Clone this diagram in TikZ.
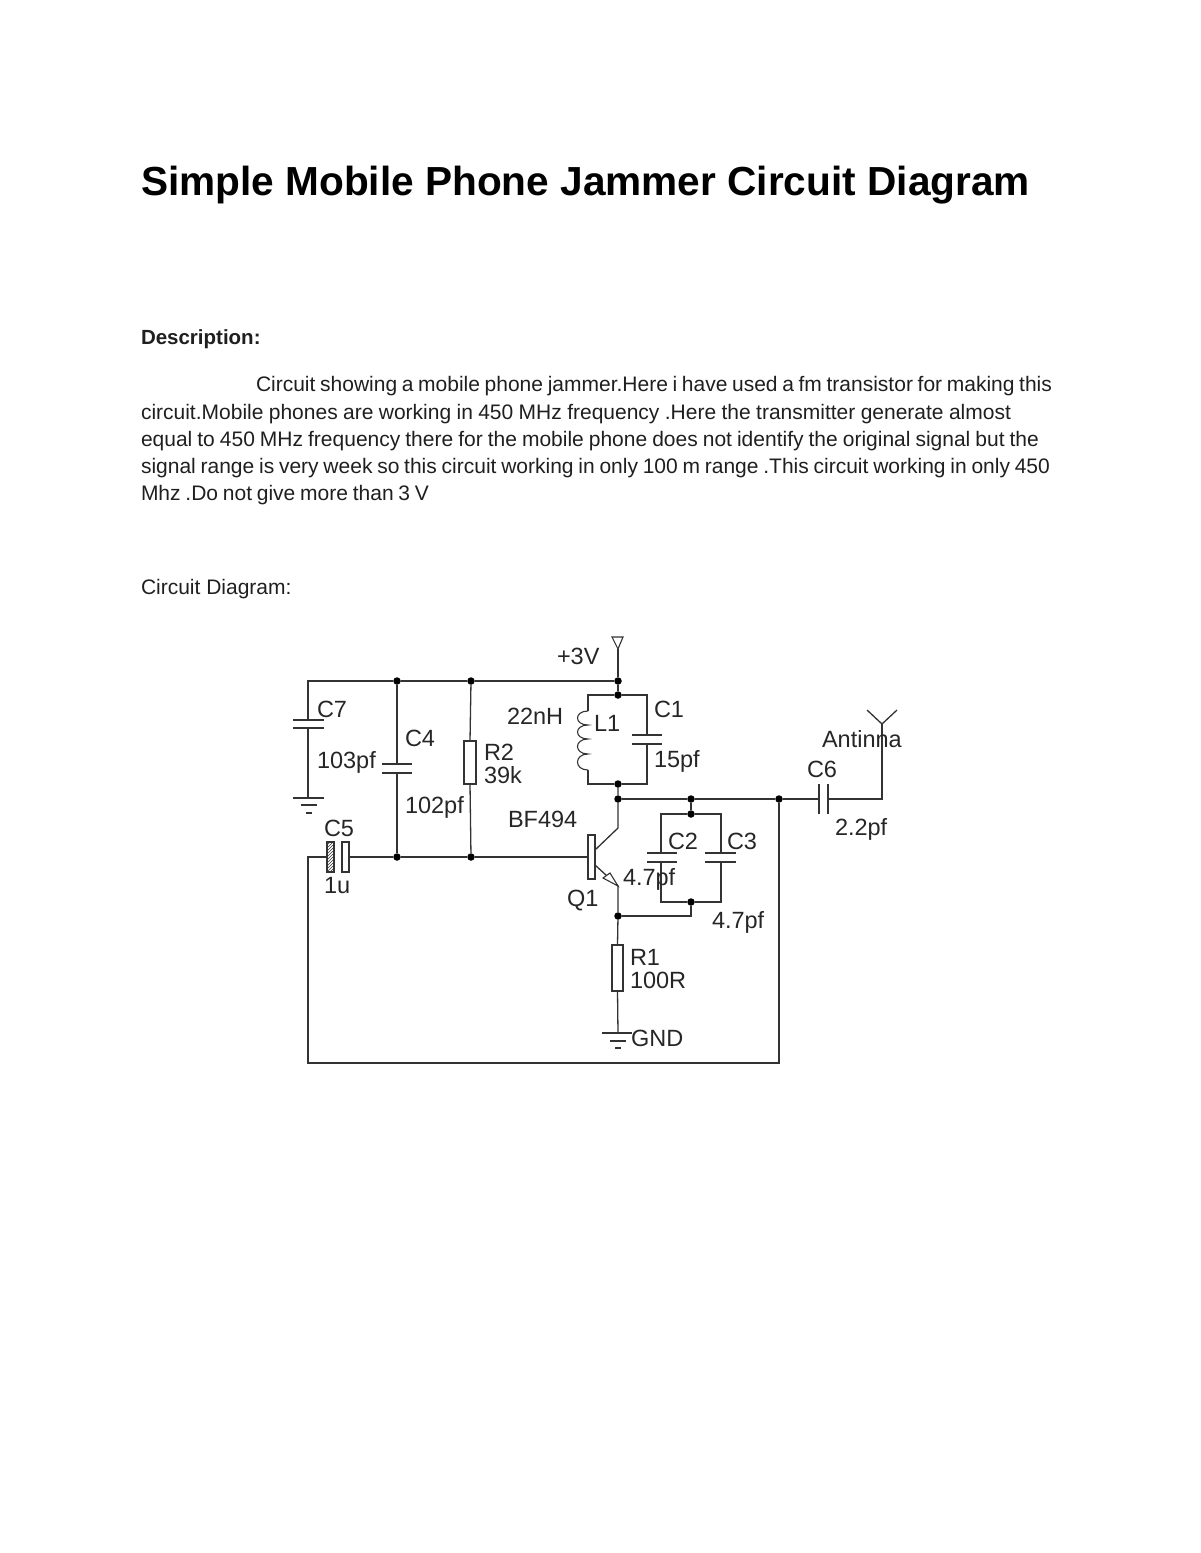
\documentclass[tikz,border=0pt]{standalone}
\usepackage{fontspec}
\setmainfont{Liberation Sans}
\usetikzlibrary{patterns}
\definecolor{wire}{HTML}{333333}
\newcommand{\fitline}[2]{\makebox[#1pt][s]{#2}}
\tikzset{
  x=1pt,y=-1pt,
  wireline/.style={draw=wire,line width=1.3pt,line join=miter},
  thick plate/.style={draw=wire,line width=2pt},
  jdot/.style={circle,fill=black,draw=none,minimum size=7.5pt,inner sep=0pt},
  doc/.style={anchor=base west,inner sep=0pt,outer sep=0pt,font=\fontsize{21}{21}\selectfont,text=black!88},
  lbl/.style={anchor=base west,inner sep=0pt,outer sep=0pt,font=\fontsize{23.5}{23.5}\selectfont,text=black!85},
  part/.style={rectangle,draw=wire,line width=1.3pt,fill=white,inner sep=0pt,outer sep=0pt},
}
\begin{document}
\begin{tikzpicture}
\useasboundingbox (0,0) rectangle (1200,1553);
% Document text
\node[doc,font=\fontsize{40.6}{41}\selectfont\bfseries,text=black] (title) at (141,195) {Simple Mobile Phone Jammer Circuit Diagram};
\node[doc,font=\fontsize{20.5}{21}\selectfont\bfseries] (desc) at (141,344) {Description:};
\node[doc] (l1) at (256,391) {\fitline{796}{Circuit showing a mobile phone jammer.Here i have used a fm transistor for making this}};
\node[doc] (l2) at (141,419) {\fitline{870}{circuit.Mobile phones are working in 450  MHz  frequency .Here the transmitter generate almost}};
\node[doc] (l3) at (141,446) {\fitline{898}{equal to 450 MHz  frequency there for the mobile phone does not identify the original signal but the}};
\node[doc] (l4) at (141,473) {\fitline{909}{signal range is very week so this circuit working in only 100 m range .This circuit working in only 450}};
\node[doc] (l5) at (141,500) {\fitline{288}{Mhz .Do not give more than 3 V}};
\node[doc] (cd) at (141,594) {Circuit Diagram:};

% Junctions
\node[jdot] (j397t) at (397,681) {};
\node[jdot] (j471t) at (471,681) {};
\node[jdot] (j618t) at (618,681) {};
\node[jdot] (jLtop) at (618,695) {};
\node[jdot] (jLbot) at (618,784) {};
\node[jdot] (jC) at (618,799) {};
\node[jdot] (j691t) at (691,799) {};
\node[jdot] (j779) at (779,799) {};
\node[jdot] (jC2t) at (691,814) {};
\node[jdot] (jC2b) at (691,902) {};
\node[jdot] (jE) at (618,916) {};
\node[jdot] (j397b) at (397,857) {};
\node[jdot] (j471b) at (471,857) {};

% Corner and end coordinates
\coordinate (tl) at (308,681);
\coordinate (c7a) at (308,720);
\coordinate (c7b) at (308,728);
\coordinate (c7g) at (308,798);
\coordinate (bl) at (308,1063);
\coordinate (br) at (779,1063);
\coordinate (c5l) at (308,857);
\coordinate (vcc) at (618,649);
\coordinate (ltl) at (588,695);
\coordinate (ltr) at (647,695);
\coordinate (lbl) at (588,784);
\coordinate (lbr) at (647,784);
\coordinate (inda) at (588,711);
\coordinate (indb) at (588,770);
\coordinate (c1a) at (647,735);
\coordinate (c1b) at (647,744);
\coordinate (c4a) at (397,764);
\coordinate (c4b) at (397,773);
\coordinate (c2tl) at (661,814);
\coordinate (c2tr) at (721,814);
\coordinate (c2bl) at (661,902);
\coordinate (c2br) at (721,902);
\coordinate (c2a) at (661,853);
\coordinate (c2b) at (661,862);
\coordinate (c3a) at (721,853);
\coordinate (c3b) at (721,862);
\coordinate (ebend) at (691,916);
\coordinate (c6a) at (819,799);
\coordinate (c6b) at (828,799);
\coordinate (antb) at (882,799);
\coordinate (antt) at (882,724);
\coordinate (colk) at (618,828);
\coordinate (colb) at (595,850);
\coordinate (emb) at (595,865);
\coordinate (emk) at (618,886);
\coordinate (r1g) at (618,1033);

% Parts that carry a box
\node[part,minimum width=12pt,minimum height=43pt] (R2) at (470,762.5) {};
\node[part,minimum width=11pt,minimum height=46pt] (R1) at (617.5,968) {};
\node[part,minimum width=7pt,minimum height=44pt] (Q1) at (591.5,857) {};
\node[part,minimum width=7pt,minimum height=30pt] (C5a) at (330.5,857) {};
\node[part,minimum width=7pt,minimum height=30pt] (C5b) at (345.5,857) {};
\fill[pattern=north east lines,pattern color=wire] (C5a.south west) rectangle (C5a.north east);

% Wires
\draw[wireline] (c7a) -- (tl) -- (j397t) -- (j471t) -- (j618t);
\draw[wireline] (c7b) -- (c7g);
\draw[wireline] (j397t) -- (c4a);
\draw[wireline] (c4b) -- (j397b);
\draw[wireline] (j471t) -- (R2.north);
\draw[wireline] (R2.south) -- (j471b);
\draw[wireline] (C5a.west) -- (c5l) -- (bl) -- (br) -- (j779);
\draw[wireline] (C5b.east) -- (j397b) -- (j471b) -- (Q1.west);
\draw[wireline] (vcc) -- (j618t) -- (jLtop);
\draw[wireline] (inda) -- (ltl) -- (jLtop) -- (ltr) -- (c1a);
\draw[wireline] (c1b) -- (lbr) -- (jLbot) -- (lbl) -- (indb);
\draw[wireline] (jLbot) -- (jC) -- (colk) -- (colb);
\draw[wireline] (jC) -- (j691t) -- (j779) -- (c6a);
\draw[wireline] (c6b) -- (antb) -- (antt);
\draw[wireline] (j691t) -- (jC2t);
\draw[wireline] (c2a) -- (c2tl) -- (jC2t) -- (c2tr) -- (c3a);
\draw[wireline] (c2b) -- (c2bl) -- (jC2b) -- (c2br) -- (c3b);
\draw[wireline] (jC2b) -- (ebend) -- (jE);
\draw[wireline] (emb) -- (emk) -- (jE) -- (R1.north);
\draw[wireline] (R1.south) -- (r1g);

% Supply triangle
\draw[wireline,line width=1.1pt] (612,637) -- (623,637) -- (vcc) -- cycle;
% Antenna
\draw[wireline] (867,710) -- (antt) -- (897,710);
% Capacitor plates
\draw[wireline] (293,720) -- (324,720) (293,728) -- (324,728);
\draw[wireline] (382,764) -- (412,764);
\draw[thick plate] (382,773) -- (412,773);
\draw[wireline] (632,735) -- (662,735) (632,744) -- (662,744);
\draw[wireline] (647,853) -- (677,853) (647,862) -- (677,862);
\draw[wireline] (705,853) -- (736,853) (705,862) -- (736,862);
\draw[wireline] (819,784) -- (819,814) (828,784) -- (828,814);
% Grounds
\draw[wireline] (293,798) -- (324,798) (301,805) -- (317,805) (306,813) -- (312,813);
\draw[wireline] (602,1033) -- (632,1033) (610,1041) -- (626,1041) (615,1048) -- (621,1048);
% Inductor
\draw[wireline,line width=1.1pt] (inda)
  .. controls (574,711) and (574,725) .. (588,725)
  .. controls (574,725) and (574,739) .. (588,739)
  .. controls (574,739) and (574,754) .. (588,754)
  .. controls (574,754) and (574,770) .. (indb);
% Emitter arrow
\draw[wireline,line width=1.1pt,fill=white] (603,878) -- (610,873) -- (emk) -- cycle;

% Labels
\node[lbl] (t3v) at (557,664) {+3V};
\node[lbl] (tC7) at (317,717) {C7};
\node[lbl,font=\fontsize{23.5}{23.5}\selectfont] (t103) at (317,768) {103pf};
\node[lbl] (tC4) at (405,746) {C4};
\node[lbl] (t102) at (405,813) {102pf};
\node[lbl] (tR2) at (484,760) {R2};
\node[lbl] (t39k) at (484,783) {39k};
\node[lbl] (t22) at (507,724) {22nH};
\node[lbl] (tL1) at (594,731) {L1};
\node[lbl] (tC1) at (654,717) {C1};
\node[lbl] (t15) at (654,767) {15pf};
\node[lbl] (tBF) at (508,827) {BF494};
\node[lbl] (tC5) at (324,836) {C5};
\node[lbl] (t1u) at (324,893) {1u};
\node[lbl] (tQ1) at (567,906) {Q1};
\node[lbl] (tC2) at (668,849) {C2};
\node[lbl] (tC3) at (727,849) {C3};
\node[lbl] (t47a) at (623,885) {4.7pf};
\node[lbl] (t47b) at (712,928) {4.7pf};
\node[lbl] (tR1) at (630,965) {R1};
\node[lbl] (t100) at (630,988) {100R};
\node[lbl] (tGND) at (631,1046) {GND};
\node[lbl] (tAnt) at (822,747) {Antinna};
\node[lbl] (tC6) at (807,777) {C6};
\node[lbl] (t22p) at (835,835) {2.2pf};
\end{tikzpicture}
\end{document}
